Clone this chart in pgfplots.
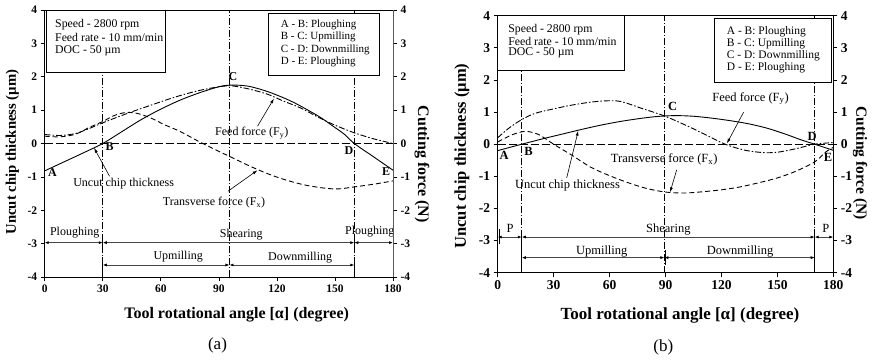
\documentclass[border=0pt]{standalone}
\usepackage{fontspec}
\setmainfont{Liberation Serif}
\usepackage{pgfplots}
\usepackage{pgfplotstable}
\pgfplotsset{compat=1.18}
\usetikzlibrary{arrows.meta}

% ---------- panel (a) ----------
\pgfplotstableread{
x y
0 -0.82
10 -0.55
20 -0.28
30 0
40 0.36
50 0.72
60 1.03
70 1.30
80 1.52
90 1.70
96 1.75
105 1.72
115 1.56
125 1.33
132 1.13
142 0.80
149 0.52
155 0.27
160 0
170 -0.40
180 -0.80
}\chipA
\pgfplotstableread{
x y
0 0.27
8 0.24
16 0.30
23 0.45
30 0.62
38 0.80
46 0.97
55 1.15
63 1.31
72 1.47
80 1.59
88 1.68
96 1.73
105 1.64
115 1.48
123 1.28
132 1.07
142 0.77
150 0.55
160 0.32
170 0.14
180 0
}\feedA
\pgfplotstableread{
x y
0 0.22
8 0.20
16 0.28
23 0.48
30 0.66
36 0.84
42 0.93
48 0.90
55 0.76
62 0.56
70 0.36
80 0.05
88 -0.18
96 -0.40
105 -0.65
115 -0.90
125 -1.10
135 -1.25
145 -1.34
152 -1.36
160 -1.30
170 -1.22
180 -1.12
}\transA

% ---------- panel (b) ----------
\pgfplotstableread{
x y
0 -0.20
12.9 0
25 0.18
35 0.32
45 0.46
55 0.59
65 0.70
75 0.79
85 0.86
95 0.89
105 0.87
115 0.81
125 0.73
135 0.63
145 0.49
155 0.30
162 0.15
170 0
180 -0.19
}\chipB
\pgfplotstableread{
x y
0 0.20
6 0.50
13 0.77
20 0.96
30 1.10
40 1.22
50 1.31
58 1.35
66 1.33
77 1.12
89.4 0.88
102 0.56
112 0.28
122 0
132 -0.18
142 -0.26
150 -0.25
160 -0.14
170 0
180 0.05
}\feedB
\pgfplotstableread{
x y
0 0.07
8 0.30
15 0.40
22 0.30
30 0.00
40 -0.35
50 -0.72
60 -0.98
70 -1.20
80 -1.38
90 -1.49
100 -1.52
110 -1.48
120 -1.42
130 -1.33
140 -1.20
150 -1.05
160 -0.84
170 -0.55
176 -0.24
180 -0.10
}\transB

\pgfplotsset{
  textticks/.style={
    /pgf/number format/assume math mode=true,
    xticklabel={\bfseries\pgfmathprintnumber[assume math mode=true]{\tick}},
    yticklabel={\bfseries\pgfmathprintnumber[assume math mode=true]{\tick}}},
  panel/.style={scale only axis, xmin=0, xmax=180, ymin=-4, ymax=4,
    xtick={0,30,...,180}, ytick={-4,...,4},
    tick align=outside, major tick length=4pt, textticks,
    axis line style={line width=0.8pt},
    every tick/.style={black, line width=0.7pt},
    clip=false},
  chip/.style={black, line width=0.9pt, smooth},
  feed/.style={black, line width=0.9pt, smooth, dash pattern=on 6pt off 2pt on 1.5pt off 2pt},
  trans/.style={black, line width=0.9pt, smooth, dash pattern=on 5pt off 3pt},
}
\tikzset{
  guide/.style={black, line width=0.6pt, dash pattern=on 7pt off 2pt on 1pt off 2pt},
  zeroline/.style={black, line width=0.6pt, dash pattern=on 8pt off 3pt},
  span/.style={gray!55!black, line width=0.7pt,
    {Latex[length=4pt,width=3pt,black]}-{Latex[length=4pt,width=3pt,black]}},
  bar/.style={black, line width=1pt},
  pointer/.style={black, line width=0.6pt, -{Latex[length=5pt,width=3pt]}},
}

\begin{document}
\begin{tikzpicture}
\path[use as bounding box] (0,0) rectangle (874pt,362pt);

% ================= (a) =================
\begin{axis}[panel, at={(44.7pt,85pt)}, anchor=south west,
  width=348.3pt, height=267pt, xtick pos=bottom, ytick pos=left,
  tick label style={font=\fontsize{11.5}{12}\selectfont\bfseries},
  xlabel={Tool rotational angle [α] (degree)},
  xlabel style={at={(axis description cs:0.551,-0.142)}, anchor=center,
    font=\fontsize{16}{18}\selectfont\bfseries},
  ylabel={Uncut chip thickness (µm)},
  ylabel style={at={(axis description cs:-0.093,0.468)}, anchor=center,
    font=\fontsize{14.7}{16}\selectfont\bfseries}]
  \draw[zeroline] (axis cs:0,0) -- (axis cs:180,0);
  \draw[guide] (axis cs:30,-4) -- (axis cs:30,4);
  \draw[guide] (axis cs:95.5,-4) -- (axis cs:95.5,4);
  \draw[guide] (axis cs:160,-4) -- (axis cs:160,4);

  \addplot[chip] table {\chipA};
  \addplot[feed] table {\feedA};
  \addplot[trans] table {\transA};

  % parameter and stage boxes
  \draw[line width=0.7pt, fill=white] (axis cs:1,3.99) rectangle (axis cs:62.4,2.13);
  \node[anchor=west, font=\fontsize{11.8}{13}\selectfont] at (axis cs:3.6,3.56) {Speed - 2800 rpm};
  \node[anchor=west, font=\fontsize{11.8}{13}\selectfont] at (axis cs:3.6,3.17) {Feed rate - 10 mm/min};
  \node[anchor=west, font=\fontsize{11.8}{13}\selectfont] at (axis cs:3.6,2.77) {DOC - 50 µm};
  \draw[line width=0.7pt, fill=white] (axis cs:115.4,3.89) rectangle (axis cs:173.2,2.04);
  \node[anchor=west, font=\fontsize{11}{12}\selectfont] at (axis cs:120.2,3.56) {A - B: Ploughing};
  \node[anchor=west, font=\fontsize{11}{12}\selectfont] at (axis cs:120.2,3.19) {B - C: Upmilling};
  \node[anchor=west, font=\fontsize{11}{12}\selectfont] at (axis cs:120.2,2.81) {C - D: Downmilling};
  \node[anchor=west, font=\fontsize{11}{12}\selectfont] at (axis cs:120.2,2.45) {D - E: Ploughing};

  % point labels
  \begin{scope}[every node/.style={font=\fontsize{12}{13}\selectfont\bfseries, inner sep=0pt}]
    \node at (axis cs:4,-0.88) {A};
    \node at (axis cs:33.5,-0.08) {B};
    \node at (axis cs:97.3,2.0) {C};
    \node at (axis cs:157.3,-0.2) {D};
    \node at (axis cs:176.5,-0.83) {E};
  \end{scope}

  % curve labels
  \node[font=\fontsize{12}{13}\selectfont] at (axis cs:107,0.3) {Feed force (F\textsubscript{y})};
  \draw[pointer] (axis cs:110,0.52) -- (axis cs:118.5,1.35);
  \node[font=\fontsize{12}{13}\selectfont] at (axis cs:40.8,-1.2) {Uncut chip thickness};
  \draw[pointer] (axis cs:33.5,-0.98) -- (axis cs:25.5,-0.13);
  \node[font=\fontsize{12}{13}\selectfont] at (axis cs:87.5,-1.78) {Transverse force (F\textsubscript{x})};
  \draw[pointer] (axis cs:94.7,-1.43) -- (axis cs:110,-0.8);

  % cutting stages
  \draw[span] (axis cs:0,-2.97) -- (axis cs:30,-2.97);
  \draw[span] (axis cs:30,-2.97) -- (axis cs:160,-2.97);
  \draw[span] (axis cs:160,-2.97) -- (axis cs:180,-2.97);
  \draw[span] (axis cs:30,-3.64) -- (axis cs:95.5,-3.64);
  \draw[span] (axis cs:95.5,-3.64) -- (axis cs:160,-3.64);
  \draw[bar] (axis cs:0,-2.7) -- (axis cs:0,-3.25);
  \draw[bar] (axis cs:30,-2.8) -- (axis cs:30,-3.2);
  \draw[bar] (axis cs:160,-2.75) -- (axis cs:160,-3.2);
  \draw[bar] (axis cs:30,-3.4) -- (axis cs:30,-3.85);
  \draw[bar] (axis cs:160,-3.4) -- (axis cs:160,-3.85);
  \begin{scope}[every node/.style={font=\fontsize{12}{13}\selectfont}]
    \node at (axis cs:15.5,-2.66) {Ploughing};
    \node at (axis cs:101.6,-2.72) {Shearing};
    \node at (axis cs:168,-2.65) {Ploughing};
    \node at (axis cs:69,-3.4) {Upmilling};
    \node at (axis cs:132,-3.42) {Downmilling};
  \end{scope}
\end{axis}
\begin{axis}[at={(44.7pt,85pt)}, anchor=south west, scale only axis,
  width=348.3pt, height=267pt, xmin=0, xmax=180, ymin=-4, ymax=4,
  axis x line=none, axis y line*=right, ytick={-4,...,4},
  tick align=outside, major tick length=4pt, textticks,
  axis line style={line width=0.9pt, gray!70!black},
  every tick/.style={black, line width=0.7pt},
  tick label style={font=\fontsize{11.5}{12}\selectfont\bfseries},
  ylabel={Cutting force (N)},
  ylabel style={at={(axis description cs:1.083,0.423)}, anchor=center, rotate=180,
    font=\fontsize{16}{18}\selectfont\bfseries}]
  \addplot[draw=none] coordinates {(0,0)};
\end{axis}

% ================= (b) =================
\begin{axis}[panel, at={(497.7pt,89.3pt)}, anchor=south west,
  width=335.6pt, height=257pt, xtick pos=bottom, ytick pos=left,
  tick label style={font=\fontsize{13.5}{14}\selectfont\bfseries},
  xlabel={Tool rotational angle [α] (degree)},
  xlabel style={at={(axis description cs:0.543,-0.165)}, anchor=center,
    font=\fontsize{17}{19}\selectfont\bfseries},
  ylabel={Uncut chip thickness (µm)},
  ylabel style={at={(axis description cs:-0.107,0.454)}, anchor=center,
    font=\fontsize{16.5}{18}\selectfont\bfseries}]
  \draw[zeroline] (axis cs:0,0) -- (axis cs:180,0);
  \draw[guide] (axis cs:12.9,-4) -- (axis cs:12.9,4);
  \draw[guide] (axis cs:89.4,-4) -- (axis cs:89.4,4);
  \draw[guide] (axis cs:170,-4) -- (axis cs:170,4);

  \addplot[chip] table {\chipB};
  \addplot[feed] table {\feedB};
  \addplot[trans] table {\transB};

  \draw[line width=0.7pt, fill=white] (axis cs:0,4) rectangle (axis cs:67.9,2.3);
  \node[anchor=west, font=\fontsize{11.8}{13}\selectfont] at (axis cs:3.8,3.57) {Speed - 2800 rpm};
  \node[anchor=west, font=\fontsize{11.8}{13}\selectfont] at (axis cs:3.8,3.19) {Feed rate - 10 mm/min};
  \node[anchor=west, font=\fontsize{11.8}{13}\selectfont] at (axis cs:3.8,2.83) {DOC - 50 µm};
  \draw[line width=0.7pt, fill=white] (axis cs:116.2,3.92) rectangle (axis cs:179.2,1.94);
  \node[anchor=west, font=\fontsize{11.5}{12}\selectfont] at (axis cs:121,3.49) {A - B: Ploughing};
  \node[anchor=west, font=\fontsize{11.5}{12}\selectfont] at (axis cs:121,3.12) {B - C: Upmilling};
  \node[anchor=west, font=\fontsize{11.5}{12}\selectfont] at (axis cs:121,2.75) {C - D: Downmilling};
  \node[anchor=west, font=\fontsize{11.5}{12}\selectfont] at (axis cs:121,2.38) {D - E: Ploughing};

  \begin{scope}[every node/.style={font=\fontsize{12.5}{13}\selectfont\bfseries, inner sep=0pt}]
    \node at (axis cs:3.5,-0.36) {A};
    \node at (axis cs:16.5,-0.21) {B};
    \node at (axis cs:93.8,1.19) {C};
    \node at (axis cs:168.7,0.23) {D};
    \node at (axis cs:177.2,-0.42) {E};
  \end{scope}

  \node[font=\fontsize{12.5}{13}\selectfont] at (axis cs:135.6,1.42) {Feed force (F\textsubscript{y})};
  \draw[pointer] (axis cs:131.9,1.0) -- (axis cs:122.9,0.02);
  \node[font=\fontsize{12.5}{13}\selectfont] at (axis cs:89.3,-0.48) {Transverse force (F\textsubscript{x})};
  \draw[pointer] (axis cs:96,-0.8) -- (axis cs:92.4,-1.5);
  \node[font=\fontsize{12.5}{13}\selectfont] at (axis cs:37.4,-1.28) {Uncut chip thickness};
  \draw[pointer] (axis cs:37,-1.05) -- (axis cs:43.2,0.42);

  \draw[span] (axis cs:0,-2.89) -- (axis cs:12.9,-2.89);
  \draw[span] (axis cs:12.9,-2.89) -- (axis cs:170,-2.89);
  \draw[span] (axis cs:170,-2.89) -- (axis cs:180,-2.89);
  \draw[span] (axis cs:12.9,-3.53) -- (axis cs:89.4,-3.53);
  \draw[span] (axis cs:89.4,-3.53) -- (axis cs:170,-3.53);
  \draw[bar] (axis cs:0.8,-2.65) -- (axis cs:0.8,-3.1);
  \draw[bar] (axis cs:12.9,-2.75) -- (axis cs:12.9,-3.05);
  \draw[bar] (axis cs:170,-2.65) -- (axis cs:170,-3.2);
  \draw[bar] (axis cs:180,-2.65) -- (axis cs:180,-3.1);
  \draw[bar] (axis cs:12.9,-3.25) -- (axis cs:12.9,-3.9);
  \draw[bar] (axis cs:90,-3.3) -- (axis cs:90,-3.75);
  \draw[bar] (axis cs:170,-3.25) -- (axis cs:170,-3.95);
  \begin{scope}[every node/.style={font=\fontsize{12.5}{13}\selectfont}]
    \node at (axis cs:6.6,-2.63) {P};
    \node at (axis cs:91.5,-2.66) {Shearing};
    \node at (axis cs:176,-2.63) {P};
    \node at (axis cs:55.8,-3.33) {Upmilling};
    \node at (axis cs:130,-3.35) {Downmilling};
  \end{scope}
\end{axis}
\begin{axis}[at={(497.7pt,89.3pt)}, anchor=south west, scale only axis,
  width=335.6pt, height=257pt, xmin=0, xmax=180, ymin=-4, ymax=4,
  axis x line=none, axis y line*=right, ytick={-4,...,4},
  tick align=outside, major tick length=4pt, textticks,
  axis line style={line width=0.8pt},
  every tick/.style={black, line width=0.7pt},
  tick label style={font=\fontsize{13.5}{14}\selectfont\bfseries},
  ylabel={Cutting force (N)},
  ylabel style={at={(axis description cs:1.080,0.425)}, anchor=center, rotate=180,
    font=\fontsize{15.5}{17}\selectfont\bfseries}]
  \addplot[draw=none] coordinates {(0,0)};
\end{axis}

\node[font=\fontsize{17}{19}\selectfont] at (217.5pt,16.5pt) {(a)};
\node[font=\fontsize{17}{19}\selectfont] at (663.3pt,14.5pt) {(b)};
\end{tikzpicture}
\end{document}
